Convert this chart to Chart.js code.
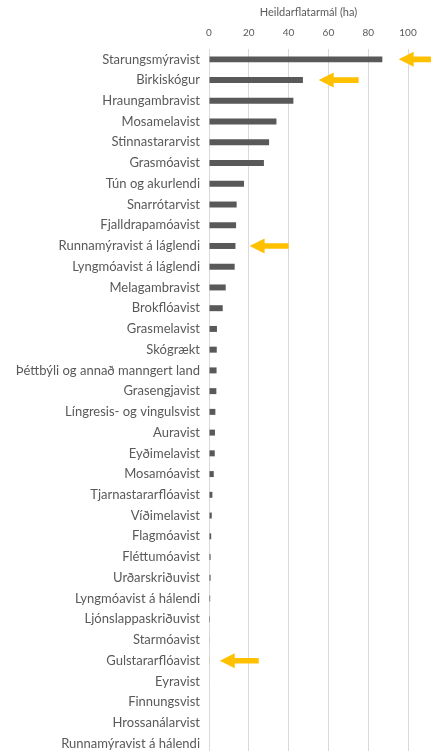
<!DOCTYPE html>
<html>
<head>
<meta charset="utf-8">
<script src="https://cdn.jsdelivr.net/npm/chart.js@4/dist/chart.umd.min.js"></script>
<style>
  html, body { margin: 0; padding: 0; background: #fff; overflow: hidden; }
  #wrap { width: 431px; height: 754px; }
</style>
</head>
<body>
<div id="wrap"><canvas id="chart" width="431" height="754"></canvas></div>
<script>
// Vistgerðir, raðað eftir heildarflatarmáli
const habitats = [
  'Starungsmýravist', 'Birkiskógur', 'Hraungambravist', 'Mosamelavist',
  'Stinnastararvist', 'Grasmóavist', 'Tún og akurlendi', 'Snarrótarvist',
  'Fjalldrapamóavist', 'Runnamýravist á láglendi', 'Lyngmóavist á láglendi',
  'Melagambravist', 'Brokflóavist', 'Grasmelavist', 'Skógrækt',
  'Þéttbýli og annað manngert land', 'Grasengjavist', 'Língresis- og vingulsvist',
  'Auravist', 'Eyðimelavist', 'Mosamóavist', 'Tjarnastararflóavist',
  'Víðimelavist', 'Flagmóavist', 'Fléttumóavist', 'Urðarskriðuvist',
  'Lyngmóavist á hálendi', 'Ljónslappaskriðuvist', 'Starmóavist',
  'Gulstararflóavist', 'Eyravist', 'Finnungsvist', 'Hrossanálarvist',
  'Runnamýravist á hálendi'
];

// Heildarflatarmál (ha)
const areaHa = [
  87.1, 47.2, 42.4, 33.9,
  30.2, 27.6, 17.6, 13.9,
  13.6, 13.3, 12.9,
  8.4, 6.9, 4.0, 3.9,
  3.8, 3.7, 3.2,
  3.0, 2.9, 2.4, 1.7,
  1.4, 1.1, 0.8, 0.8,
  0.6, 0.5, 0.3,
  0.3, 0.25, 0, 0,
  0
];

const xTicks = [0, 20, 40, 60, 80, 100];

// Ábendingarörvar: vistgerð, oddur og hali í ha
const arrowRows = ['Starungsmýravist', 'Birkiskógur', 'Runnamýravist á láglendi', 'Gulstararflóavist'];
const arrowTips = [95.3, 55.1, 20.4, 5.4];
const arrowTails = [112, 75.2, 40.0, 25.0];

const arrowPlugin = {
  id: 'arrows',
  afterDatasetsDraw(chart) {
    const { ctx, scales: { x, y } } = chart;
    ctx.save();
    ctx.fillStyle = '#FFC000';
    arrowRows.forEach((name, i) => {
      const cy = y.getPixelForValue(habitats.indexOf(name));
      const tip = x.getPixelForValue(arrowTips[i]);
      const tail = x.getPixelForValue(arrowTails[i]);
      const headLen = 15, headHalf = 7.5, shaftHalf = 2.8;
      ctx.beginPath();
      ctx.moveTo(tip, cy);
      ctx.lineTo(tip + headLen, cy - headHalf);
      ctx.lineTo(tip + headLen, cy - shaftHalf);
      ctx.lineTo(tail, cy - shaftHalf);
      ctx.lineTo(tail, cy + shaftHalf);
      ctx.lineTo(tip + headLen, cy + shaftHalf);
      ctx.lineTo(tip + headLen, cy + headHalf);
      ctx.closePath();
      ctx.fill();
    });
    ctx.restore();
  }
};

const labelFont = "Lato, 'Open Sans', sans-serif";

new Chart(document.getElementById('chart'), {
  type: 'bar',
  data: {
    labels: habitats,
    datasets: [{
      label: 'Heildarflatarmál (ha)',
      data: areaHa,
      backgroundColor: '#595959',
      barPercentage: 0.6,
      categoryPercentage: 0.48
    }]
  },
  options: {
    indexAxis: 'y',
    responsive: false,
    animation: false,
    layout: { padding: { left: 0, right: 23, top: 0, bottom: 0 } },
    plugins: {
      legend: { display: false },
      tooltip: { enabled: false }
    },
    scales: {
      x: {
        position: 'top',
        min: 0,
        max: 100,
        afterFit(scale) { scale.height = 49; },
        afterBuildTicks(scale) { scale.ticks = xTicks.map(v => ({ value: v })); },
        grid: { color: '#d9d9d9', lineWidth: 1, drawTicks: false },
        border: { display: false },
        ticks: {
          color: '#595959',
          font: { family: labelFont, size: 10 },
          padding: 10
        },
        title: {
          display: true,
          text: 'Heildarflatarmál (ha)',
          color: '#595959',
          font: { family: labelFont, size: 11 },
          padding: { top: 6, bottom: 0 }
        }
      },
      y: {
        afterFit(scale) {
          scale.width = 209;
          // no extra room above/below the first and last labels
          scale.paddingTop = 0;
          scale.paddingBottom = 0;
        },
        grid: { display: false, drawTicks: false },
        border: { display: false },
        ticks: {
          color: '#595959',
          font: { family: labelFont, size: 13 },
          padding: 9,
          autoSkip: false
        }
      }
    }
  },
  plugins: [arrowPlugin]
});
</script>
</body>
</html>
